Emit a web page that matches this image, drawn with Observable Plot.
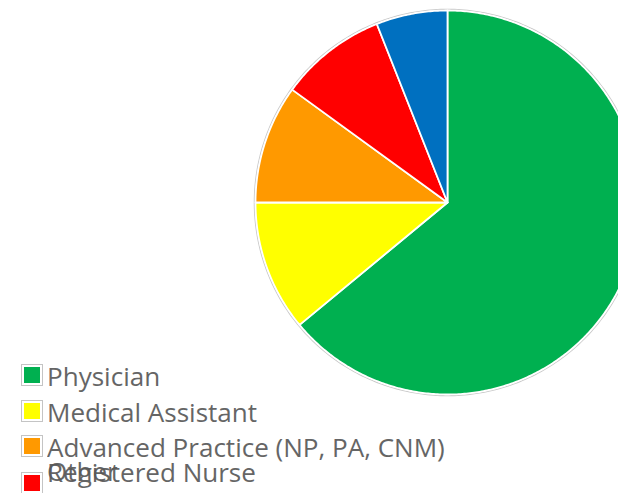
<!DOCTYPE html>
<html>
<head>
<meta charset="utf-8">
<script src="https://cdn.jsdelivr.net/npm/d3@7"></script>
<script src="https://cdn.jsdelivr.net/npm/@observablehq/plot@0.6"></script>
<style>
  html, body { margin: 0; padding: 0; background: #fff; overflow: hidden; }
  #wrap { position: relative; width: 618px; height: 493px; overflow: hidden; }
  #wrap svg.plot { overflow: hidden; }
  #legend { position: absolute; left: 0; top: 0; }
</style>
</head>
<body>
<div id="wrap"></div>
<script>
// ---- data ----
const categories = ["Physician", "Medical Assistant", "Advanced Practice (NP, PA, CNM)", "Registered Nurse", "Other"];
const shares = [64, 11, 10, 9, 6];
const colors = ["#00B050", "#FFFF00", "#FF9900", "#FF0000", "#0070C0"];

// ---- build slice outlines from the pie layout ----
const arcs = d3.pie().sort(null).startAngle(0).endAngle(2 * Math.PI)(shares);
const slicePts = [];
arcs.forEach((a, i) => {
  const cat = categories[i];
  slicePts.push({cat, x: 0, y: 0});
  const n = Math.max(2, Math.ceil((a.endAngle - a.startAngle) / 0.01));
  for (let k = 0; k <= n; k++) {
    const t = a.startAngle + (a.endAngle - a.startAngle) * k / n;
    slicePts.push({cat, x: Math.sin(t), y: Math.cos(t)});
  }
});
const rim = d3.range(0, 361).map(d => ({x: 1.006 * Math.sin(d * Math.PI / 180), y: 1.006 * Math.cos(d * Math.PI / 180)}));

const plot = Plot.plot({
  width: 618,
  height: 493,
  margin: 0,
  x: {domain: [-1, 1], range: [255, 639], axis: null},
  y: {domain: [-1, 1], range: [394, 10], axis: null},
  color: {domain: categories, range: colors},
  marks: [
    Plot.line(rim, {x: "x", y: "y", stroke: "#c9c9c9", strokeWidth: 1.2, curve: "linear-closed"}),
    Plot.line(slicePts, {x: "x", y: "y", z: "cat", fill: "cat", stroke: "white", strokeWidth: 1.8, strokeLinejoin: "round", curve: "linear-closed"})
  ]
});
document.getElementById("wrap").appendChild(plot);

// ---- legend (overlapping entries as in the reference) ----
const legendRows = [
  {cat: categories[0], sq: 364, base: 386},
  {cat: categories[1], sq: 400, base: 422},
  {cat: categories[2], sq: 435, base: 457},
  {cat: categories[4], sq: 509, base: 481},
  {cat: categories[3], sq: 472, base: 482}
];
const color = plot.scale("color");
const lg = d3.select("#wrap").append("svg")
  .attr("id", "legend").attr("width", 618).attr("height", 493);
const g = lg.selectAll("g").data(legendRows).join("g");
g.append("rect").attr("x", 21.5).attr("y", d => d.sq + 0.5).attr("width", 21).attr("height", 21)
  .attr("fill", "white").attr("stroke", "#c4c4c4");
g.append("rect").attr("x", 24).attr("y", d => d.sq + 3).attr("width", 16).attr("height", 16)
  .attr("fill", d => color.apply(d.cat));
const texts = g.append("text")
  .attr("font-family", "'Open Sans', sans-serif").attr("font-size", 25)
  .attr("fill", "#595959").attr("opacity", 0.92)
  .text(d => d.cat);
// fit the longest label to the reference's narrow (Calibri-like) width
const longest = texts.filter(d => d.cat === categories[2]).node().getComputedTextLength();
const sx = 398 / longest;
texts.attr("transform", d => `translate(47,${d.base}) scale(${sx},1)`);
</script>
</body>
</html>
